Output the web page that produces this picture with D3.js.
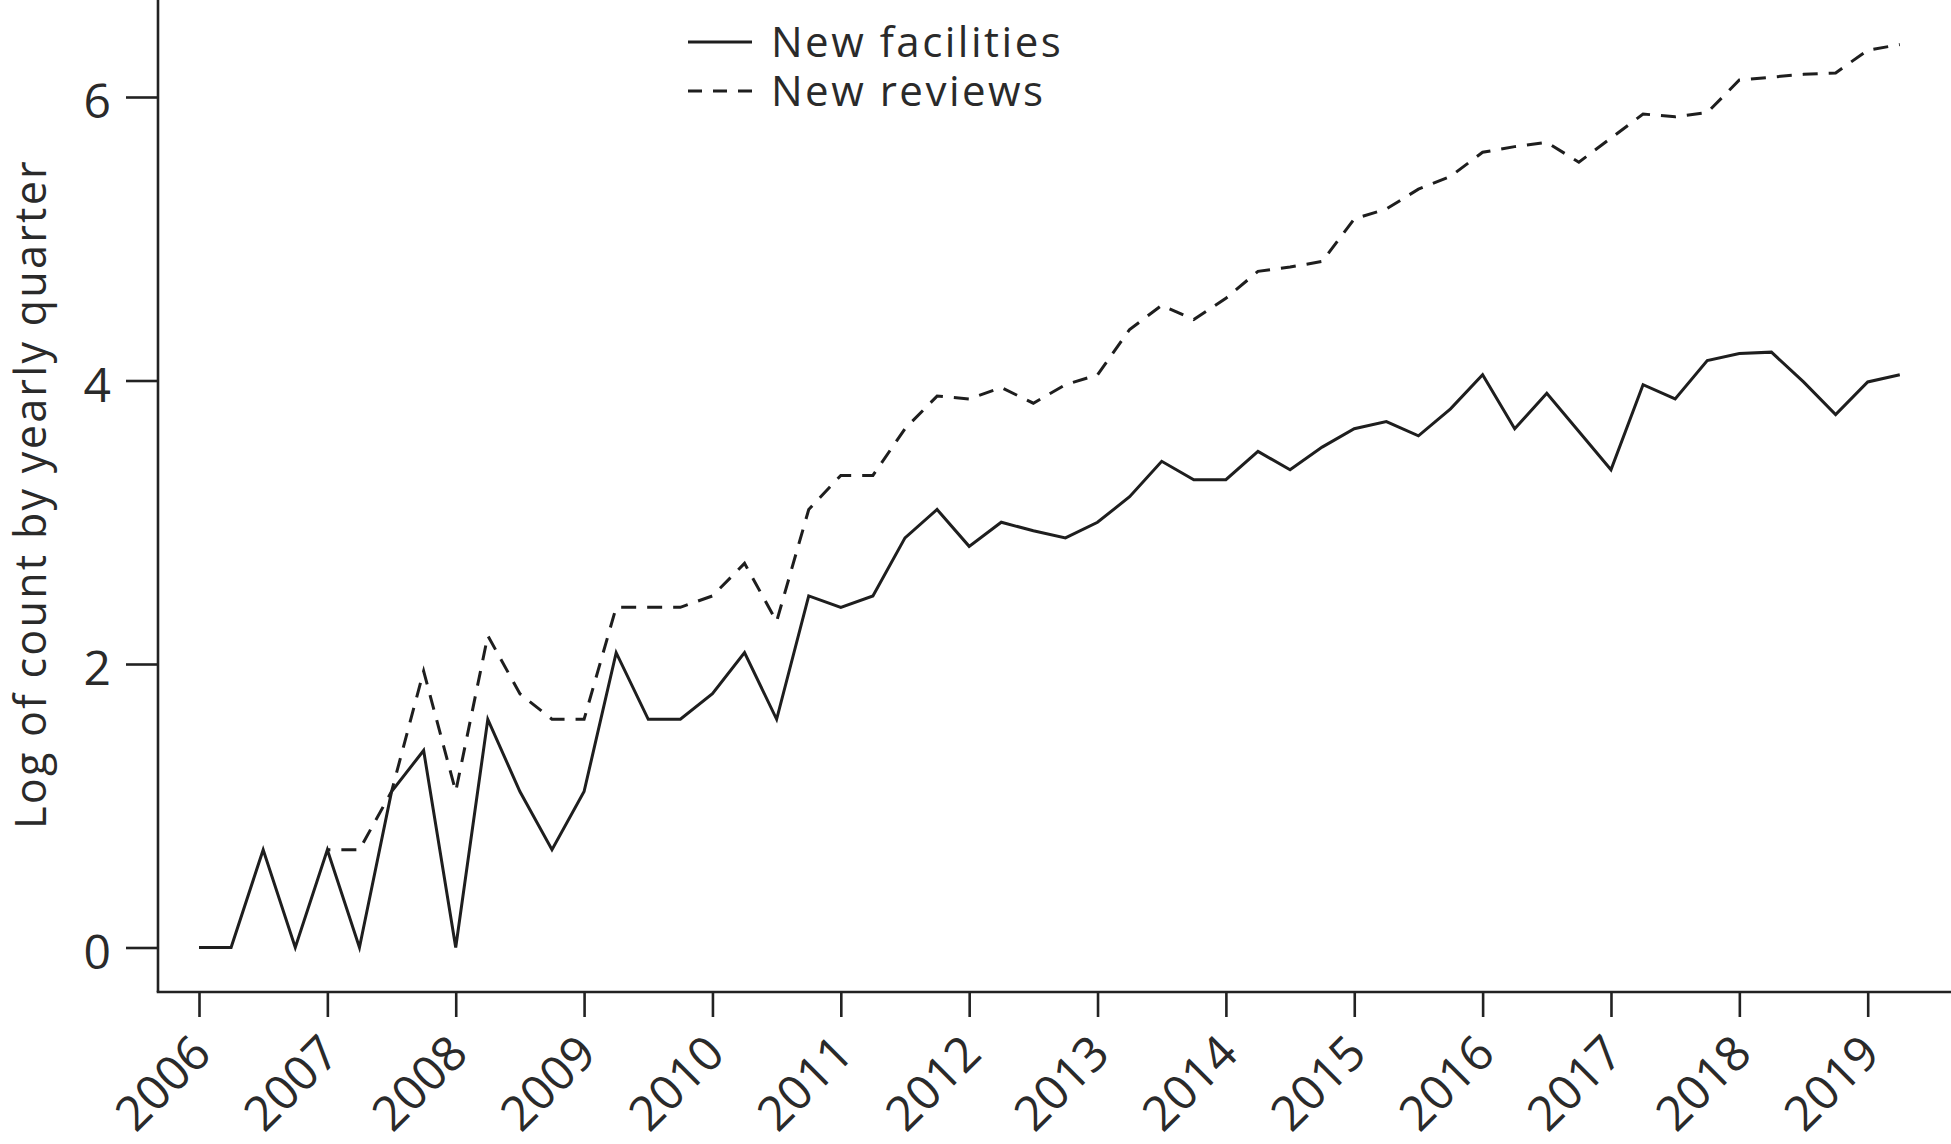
<!DOCTYPE html>
<html>
<head>
<meta charset="utf-8">
<script src="https://cdn.jsdelivr.net/npm/d3@7"></script>
<style>
  html, body { margin: 0; padding: 0; background: #fff; }
  svg { display: block; }
  text { font-family: "Open Sans", "Noto Sans", sans-serif; fill: #2a2a2a; }
</style>
</head>
<body>
<svg id="chart" width="1951" height="1144"></svg>
<script>
// ---- Data (log of count by yearly quarter, quarters from 2006 Q1) ----
const firstYear = 2006;
const yearTicks = [2006, 2007, 2008, 2009, 2010, 2011, 2012, 2013, 2014, 2015, 2016, 2017, 2018, 2019];
const yTicks = [0, 2, 4, 6];
const seriesNames = ["New facilities", "New reviews"];

const newFacilities = [
  0, 0, 0.69, 0, 0.69, 0, 1.10, 1.39, 0, 1.61,
  1.10, 0.69, 1.10, 2.08, 1.61, 1.61, 1.79, 2.08, 1.61, 2.48,
  2.40, 2.48, 2.89, 3.09, 2.83, 3.00, 2.94, 2.89, 3.00, 3.18,
  3.43, 3.30, 3.30, 3.50, 3.37, 3.53, 3.66, 3.71, 3.61, 3.80,
  4.04, 3.66, 3.91, 3.64, 3.37, 3.97, 3.87, 4.14, 4.19, 4.20,
  3.99, 3.76, 3.99, 4.04
];
const newReviews = [
  null, null, null, null, 0.69, 0.69, 1.10, 1.95, 1.10, 2.20,
  1.79, 1.61, 1.61, 2.40, 2.40, 2.40, 2.48, 2.71, 2.30, 3.09,
  3.33, 3.33, 3.66, 3.89, 3.87, 3.95, 3.84, 3.97, 4.04, 4.36,
  4.53, 4.43, 4.58, 4.77, 4.80, 4.84, 5.14, 5.21, 5.35, 5.44,
  5.61, 5.65, 5.68, 5.54, 5.71, 5.88, 5.86, 5.89, 6.12, 6.14,
  6.16, 6.17, 6.33, 6.37
];

// ---- Layout ----
const W = 1951, H = 1144;
const axisX = 158, axisY = 992;
const TICK_FONT = 48;

const svg = d3.select("#chart");

const x = d3.scaleLinear().domain([2006, 2019]).range([199, 1867.7]);
const y = d3.scaleLinear().domain([0, 6]).range([947.5, 97]);

const tOf = i => firstYear + i / 4;

// spines
svg.append("line").attr("x1", axisX).attr("x2", axisX).attr("y1", 0).attr("y2", axisY)
  .attr("stroke", "#222").attr("stroke-width", 2.6);
svg.append("line").attr("x1", axisX - 1.3).attr("x2", W).attr("y1", axisY).attr("y2", axisY)
  .attr("stroke", "#222").attr("stroke-width", 2.6);

// y axis
const yAxis = svg.append("g").attr("transform", `translate(${axisX},0)`)
  .call(d3.axisLeft(y).tickValues(yTicks).tickFormat(d3.format("d")).tickSize(32).tickPadding(15));
yAxis.select(".domain").remove();
yAxis.selectAll(".tick line").attr("stroke", "#222").attr("stroke-width", 2.6);
yAxis.selectAll(".tick text").attr("font-size", TICK_FONT).attr("font-family", null)
  .attr("fill", "#2a2a2a").attr("dy", "0.43em");

// x axis
const xAxis = svg.append("g").attr("transform", `translate(0,${axisY})`)
  .call(d3.axisBottom(x).tickValues(yearTicks).tickFormat(d3.format("d")).tickSize(25));
xAxis.select(".domain").remove();
xAxis.selectAll(".tick line").attr("stroke", "#222").attr("stroke-width", 2.6);
xAxis.selectAll(".tick text").remove();
xAxis.selectAll(".tick").append("text")
  .attr("font-size", TICK_FONT)
  .attr("text-anchor", "end")
  .attr("transform", "translate(14,64) rotate(-45)")
  .attr("fill", "#2a2a2a")
  .text(d => d);

// y label
svg.append("text")
  .attr("transform", "translate(46,494) rotate(-90)")
  .attr("text-anchor", "middle")
  .attr("font-size", 43).style("letter-spacing", "2.3px")
  .text("Log of count by yearly quarter");

// lines
const line = d3.line()
  .defined(d => d.v !== null)
  .x(d => x(d.t))
  .y(d => y(d.v));

const facData = newFacilities.map((v, i) => ({ t: tOf(i), v }));
const revData = newReviews.map((v, i) => ({ t: tOf(i), v }));

svg.append("path").datum(revData).attr("d", line)
  .attr("fill", "none").attr("stroke", "#1e1e1e").attr("stroke-width", 3)
  .attr("stroke-dasharray", "15,11").attr("stroke-dashoffset", 12)
  .attr("stroke-linejoin", "miter");

svg.append("path").datum(facData).attr("d", line)
  .attr("fill", "none").attr("stroke", "#1e1e1e").attr("stroke-width", 3)
  .attr("stroke-linejoin", "miter");

// legend
const legend = svg.append("g");
const legendRows = [
  { name: seriesNames[0], dash: null, y: 42 },
  { name: seriesNames[1], dash: "14,11", y: 91 }
];
legendRows.forEach(r => {
  legend.append("line").attr("x1", 688).attr("x2", 752).attr("y1", r.y).attr("y2", r.y)
    .attr("stroke", "#1e1e1e").attr("stroke-width", 3)
    .attr("stroke-dasharray", r.dash);
  legend.append("text").attr("x", 771).attr("y", r.y + 15)
    .attr("font-size", 42).style("letter-spacing", "2.5px")
    .text(r.name);
});
</script>
</body>
</html>
